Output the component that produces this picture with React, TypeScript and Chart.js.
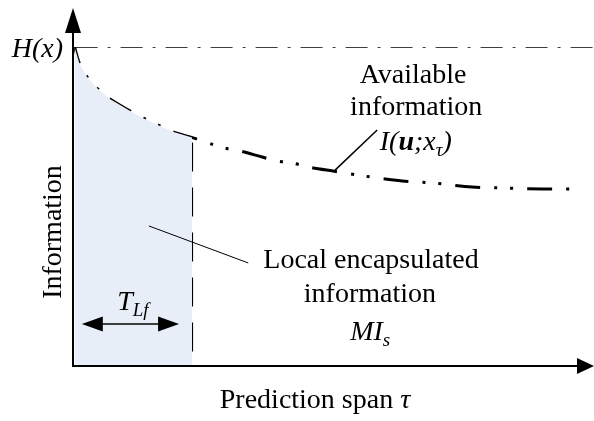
import React, { useEffect, useRef } from "react";
import { Chart, registerables } from "chart.js";

Chart.register(...registerables);

// Prediction span (tau) and available information I(u;x_tau)
const tau = [0.3, 1.2, 2.7, 4.8, 7.1, 11.0, 13.5, 16.4, 19.2, 23.1, 26.0, 29.2, 32.1, 36.4, 39.2, 42.3, 45.2, 50.0, 55.8, 63.3, 69.0, 76.7, 82.7, 90.2, 96.5];
const info = [100, 95.0, 90.6, 86.8, 83.7, 79.9, 77.7, 75.5, 73.4, 71.5, 69.9, 68.3, 67.4, 65.5, 64.3, 63.6, 62.4, 61.1, 59.6, 58.0, 57.4, 56.1, 55.8, 55.5, 55.5];
// entropy level H(x)
const entropyTau = [0.5, 100];
const entropyInfo = [100, 100];
// local prediction span T_Lf and information at that span
const spanT = 22.9;
const spanInfo = 71.6;

const F = "'Liberation Serif', 'Times New Roman', serif";

type Part = { t: string; font: string; dy?: number };

function drawRuns(ctx: CanvasRenderingContext2D, parts: Part[], x: number, base: number, align: "left" | "center" | "right") {
  let total = 0;
  for (const p of parts) {
    ctx.font = p.font;
    total += ctx.measureText(p.t).width;
  }
  let cx = align === "left" ? x : align === "center" ? x - total / 2 : x - total;
  ctx.textAlign = "left";
  ctx.textBaseline = "alphabetic";
  for (const p of parts) {
    ctx.font = p.font;
    ctx.fillText(p.t, cx, base + (p.dy || 0));
    cx += ctx.measureText(p.t).width;
  }
}

const annotations = {
  id: "annotations",
  afterDraw(chart: any) {
    const { ctx, chartArea: a, scales } = chart;
    const X = (v: number) => scales.x.getPixelForValue(v);
    const Y = (v: number) => scales.y.getPixelForValue(v);
    ctx.save();
    ctx.fillStyle = "#000";
    ctx.strokeStyle = "#000";
    ctx.setLineDash([]);

    // axes
    const ox = a.left;
    const oy = a.bottom;
    ctx.lineWidth = 2;
    ctx.beginPath();
    ctx.moveTo(ox, oy + 1);
    ctx.lineTo(ox, 30);
    ctx.moveTo(ox - 1, oy);
    ctx.lineTo(578, oy);
    ctx.stroke();
    // arrow heads
    ctx.beginPath();
    ctx.moveTo(ox, 8);
    ctx.lineTo(ox - 8, 33);
    ctx.lineTo(ox + 8, 33);
    ctx.closePath();
    ctx.fill();
    ctx.beginPath();
    ctx.moveTo(594, oy);
    ctx.lineTo(577, oy - 8);
    ctx.lineTo(577, oy + 8);
    ctx.closePath();
    ctx.fill();

    // leader lines
    ctx.lineWidth = 1;
    ctx.beginPath();
    ctx.moveTo(X(14.6), Y(43.9));
    ctx.lineTo(X(33.7), Y(32.3));
    ctx.stroke();
    ctx.lineWidth = 1.5;
    ctx.beginPath();
    ctx.moveTo(X(50.4), Y(61.4));
    ctx.lineTo(X(58.5), Y(74.0));
    ctx.stroke();

    // double arrow for T_Lf
    const ay = Y(13.2);
    const x1 = X(1.7);
    const x2 = X(20.4);
    ctx.lineWidth = 1.5;
    ctx.beginPath();
    ctx.moveTo(x1 + 10, ay);
    ctx.lineTo(x2 - 10, ay);
    ctx.stroke();
    ctx.beginPath();
    ctx.moveTo(x1, ay);
    ctx.lineTo(x1 + 21, ay - 7.5);
    ctx.lineTo(x1 + 21, ay + 7.5);
    ctx.closePath();
    ctx.fill();
    ctx.beginPath();
    ctx.moveTo(x2, ay);
    ctx.lineTo(x2 - 21, ay - 7.5);
    ctx.lineTo(x2 - 21, ay + 7.5);
    ctx.closePath();
    ctx.fill();

    const R = `28px ${F}`;
    const I = `italic 28px ${F}`;
    const BI = `italic bold 28px ${F}`;
    const S = `italic 19px ${F}`;

    // H(x)
    drawRuns(ctx, [{ t: "H(x)", font: I }], 63, 57, "right");
    // Available information I(u;x_tau)
    drawRuns(ctx, [{ t: "Available", font: R }], X(65.4), Y(88.7), "center");
    drawRuns(ctx, [{ t: "information", font: R }], X(66.0), Y(78.7), "center");
    drawRuns(
      ctx,
      [
        { t: "I(", font: I },
        { t: "u", font: BI },
        { t: ";x", font: I },
        { t: "τ", font: S, dy: 6 },
        { t: ")", font: I },
      ],
      X(59.0),
      Y(67.7),
      "left"
    );
    // Local encapsulated information MI_s
    drawRuns(ctx, [{ t: "Local encapsulated", font: R }], X(57.3), Y(30.7), "center");
    drawRuns(ctx, [{ t: "information", font: R }], X(57.1), Y(20.1), "center");
    drawRuns(ctx, [{ t: "MI", font: I }, { t: "s", font: S, dy: 6 }], X(53.3), Y(8.2), "left");
    // T_Lf
    drawRuns(ctx, [{ t: "T", font: I }, { t: "Lf", font: S, dy: 6 }], X(8.5), Y(17.6), "left");

    // axis titles
    drawRuns(ctx, [{ t: "Prediction span ", font: R }, { t: "τ", font: I }], 315, 408, "center");
    ctx.save();
    ctx.translate(61, 232);
    ctx.rotate(-Math.PI / 2);
    ctx.font = R;
    ctx.textAlign = "center";
    ctx.textBaseline = "alphabetic";
    ctx.fillText("Information", 0, 0);
    ctx.restore();

    ctx.restore();
  },
};

export default function App() {
  const ref = useRef<HTMLCanvasElement | null>(null);
  useEffect(() => {
    document.body.style.margin = "0";
    const canvas = ref.current;
    if (!canvas) return;
    const curve = tau.map((t, i) => ({ x: t, y: info[i] }));
    const shade = curve.filter((p) => p.x <= spanT).concat([{ x: spanT, y: spanInfo }]);
    const chart = new Chart(canvas, {
      type: "line",
      data: {
        datasets: [
          {
            data: shade,
            borderWidth: 0,
            borderColor: "rgba(0,0,0,0)",
            backgroundColor: "#e8eef8",
            fill: "origin",
            pointRadius: 0,
            tension: 0,
          },
          {
            data: entropyTau.map((t, i) => ({ x: t, y: entropyInfo[i] })),
            borderColor: "#000",
            borderWidth: 1.5,
            borderDash: [22, 10, 3, 10],
            pointRadius: 0,
            fill: false,
          },
          {
            data: curve,
            borderColor: "#000",
            borderWidth: 3,
            borderDash: [25, 14, 3, 13, 3, 14],
            borderDashOffset: 8,
            borderCapStyle: "butt",
            pointRadius: 0,
            tension: 0.3,
            fill: false,
          },
          {
            data: [
              { x: spanT, y: spanInfo },
              { x: spanT, y: 0 },
            ],
            borderColor: "#000",
            borderWidth: 2,
            borderDash: [29, 16],
            borderDashOffset: 40,
            pointRadius: 0,
            fill: false,
          },
        ],
      },
      options: {
        animation: false,
        responsive: false,
        events: [],
        layout: { padding: { left: 73, right: 1, top: 47, bottom: 55 } },
        plugins: { legend: { display: false }, tooltip: { enabled: false } },
        scales: {
          x: { type: "linear", min: 0, max: 100, display: false },
          y: { type: "linear", min: 0, max: 100, display: false },
        },
      },
      plugins: [annotations],
    });
    return () => chart.destroy();
  }, []);
  return (
    <div style={{ position: "fixed", left: 0, top: 0, width: 594, height: 421, background: "#fff" }}>
      <canvas ref={ref} width={594} height={421} style={{ width: 594, height: 421 }} />
    </div>
  );
}
